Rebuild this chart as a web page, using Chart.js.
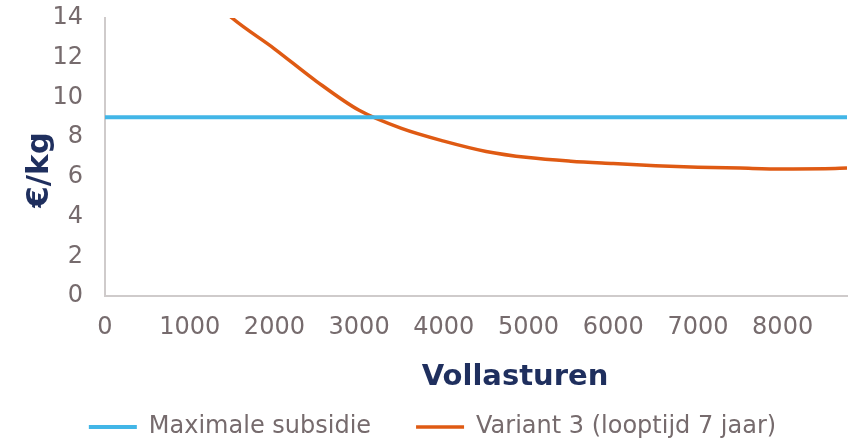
<!DOCTYPE html>
<html>
<head>
<meta charset="utf-8">
<script src="https://cdn.jsdelivr.net/npm/chart.js@4/dist/chart.umd.min.js"></script>
<style>
  html, body { margin: 0; padding: 0; background: #ffffff; }
  #wrap { width: 854px; height: 440px; position: relative; }
</style>
</head>
<body>
<div id="wrap"><canvas id="c" width="854" height="440"></canvas></div>
<script>
// ---- Data ----
const seriesNames = ['Maximale subsidie', 'Variant 3 (looptijd 7 jaar)'];
const xTitle = 'Vollasturen';
const yTitle = '€/kg';
const xTickValues = [0, 1000, 2000, 3000, 4000, 5000, 6000, 7000, 8000];
const yTickValues = [0, 2, 4, 6, 8, 10, 12, 14];
const xMax = 8760;

const subsidyHours = [0, 8760];
const subsidyValues = [9, 9];

const variantHours  = [1000, 1500, 2000, 2500, 3000, 3500, 4000, 4500, 5000, 5500, 6000, 6500, 7000, 7500, 8000, 8500, 8760];
const variantValues = [16.0, 14.0, 12.45, 10.8, 9.35, 8.44, 7.8, 7.28, 6.97, 6.79, 6.67, 6.56, 6.49, 6.44, 6.40, 6.41, 6.44];

const toPoints = (xs, ys) => xs.map((x, i) => ({ x: x, y: ys[i] }));

const FONT = 'DejaVu Sans, Verdana, sans-serif';
const TICK_COLOR = '#766B6D';
const TITLE_COLOR = '#1F2F5E';
const AXIS_COLOR = '#CFCBCB';

const titlePlugin = {
  id: 'axisTitles',
  afterLayout(chart) {
    // nudge the centred legend row to the right, as in the reference
    chart.legend.left += 9;
    chart.legend.right += 9;
  },
  afterDraw(chart) {
    const ctx = chart.ctx;
    const a = chart.chartArea;
    ctx.save();
    ctx.fillStyle = TITLE_COLOR;
    ctx.textAlign = 'center';
    ctx.textBaseline = 'middle';
    ctx.font = 'bold 29px ' + FONT;
    ctx.fillText(xTitle, (a.left + a.right) / 2 + 39, a.bottom + 81);
    ctx.font = 'bold 31px ' + FONT;
    ctx.translate(40, (a.top + a.bottom) / 2 + 13);
    ctx.rotate(-Math.PI / 2);
    ctx.fillText(yTitle, 0, 0);
    ctx.restore();
  }
};

new Chart(document.getElementById('c'), {
  type: 'line',
  data: {
    datasets: [
      {
        label: seriesNames[0],
        data: toPoints(subsidyHours, subsidyValues),
        borderColor: '#42B6E7',
        backgroundColor: '#42B6E7',
        borderWidth: 4,
        pointRadius: 0,
        pointStyle: 'line',
        tension: 0
      },
      {
        label: seriesNames[1],
        data: toPoints(variantHours, variantValues),
        borderColor: '#DF5A13',
        backgroundColor: '#DF5A13',
        borderWidth: 3.5,
        pointRadius: 0,
        pointStyle: 'line',
        cubicInterpolationMode: 'monotone'
      }
    ]
  },
  options: {
    responsive: false,
    animation: false,
    devicePixelRatio: 1,
    layout: { padding: { top: 18, right: 7, left: 0, bottom: -9 } },
    plugins: {
      legend: {
        position: 'bottom',
        labels: {
          font: { family: FONT, size: 24 },
          color: TICK_COLOR,
          usePointStyle: true,
          pointStyle: 'line',
          pointStyleWidth: 48,
          padding: 45
        }
      },
      tooltip: { enabled: false }
    },
    scales: {
      x: {
        type: 'linear',
        min: 0,
        max: xMax,
        afterBuildTicks(scale) { scale.ticks = xTickValues.map(v => ({ value: v })); },
        afterFit(scale) { scale.height = 74; scale.paddingLeft = 0; scale.paddingRight = 0; },
        grid: { display: false, drawTicks: false },
        border: { display: true, color: AXIS_COLOR, width: 2 },
        ticks: { font: { family: FONT, size: 24 }, color: TICK_COLOR, padding: 17, maxRotation: 0, autoSkip: false, callback: v => String(v) },
        title: { display: false }
      },
      y: {
        min: 0,
        max: 14,
        afterBuildTicks(scale) { scale.ticks = yTickValues.map(v => ({ value: v })); },
        afterFit(scale) { scale.width = 105; scale.paddingTop = 0; scale.paddingBottom = 0; },
        grid: { display: false, drawTicks: false },
        border: { display: true, color: AXIS_COLOR, width: 2 },
        ticks: { font: { family: FONT, size: 24 }, color: TICK_COLOR, padding: 22, callback: v => String(v) },
        title: { display: false }
      }
    }
  },
  plugins: [titlePlugin]
});
</script>
</body>
</html>
